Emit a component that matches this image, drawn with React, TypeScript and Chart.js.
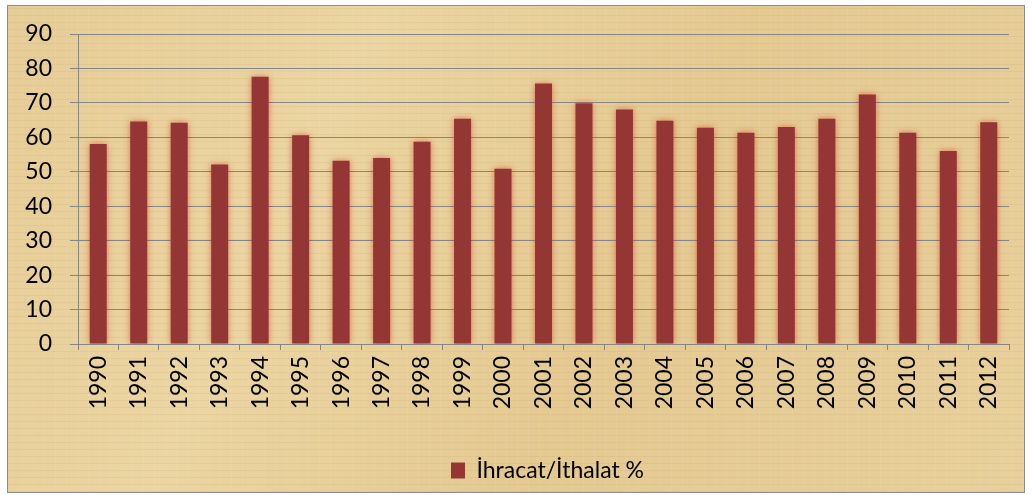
import React, { useEffect, useRef } from "react";
import { Chart, registerables } from "chart.js";

Chart.register(...registerables);

const years = ["1990","1991","1992","1993","1994","1995","1996","1997","1998","1999","2000","2001","2002","2003","2004","2005","2006","2007","2008","2009","2010","2011","2012"];
const ratioValues = [58.1,64.6,64.2,52.1,77.6,60.6,53.2,54.0,58.7,65.4,50.9,75.6,69.9,68.1,64.8,62.8,61.3,63.0,65.4,72.4,61.3,56.0,64.4];
const seriesLabel = "İhracat/İthalat %";
const yTicks = [0,10,20,30,40,50,60,70,80,90];

const FONT = "Lato, 'Open Sans', sans-serif";

const backgroundPlugin = {
  id: "papyrus",
  afterLayout(chart: any) {
    if (chart.legend) {
      chart.legend.left += 43;
      chart.legend.right += 43;
    }
  },
  beforeDraw(chart: any) {
    const ctx = chart.ctx;
    const w = chart.width, h = chart.height;
    ctx.save();
    ctx.fillStyle = "#ffffff";
    ctx.fillRect(0, 0, w, h);
    const x0 = 7, y0 = 5, x1 = w - 8, y1 = h - 2;
    const g = ctx.createLinearGradient(x0, y0, x1, y1);
    g.addColorStop(0, "#e6cc96");
    g.addColorStop(0.3, "#ebd5a2");
    g.addColorStop(0.6, "#e4c991");
    g.addColorStop(1, "#e8d09c");
    ctx.fillStyle = g;
    ctx.fillRect(x0, y0, x1 - x0, y1 - y0);
    ctx.globalAlpha = 0.1;
    ctx.strokeStyle = "#b08a50";
    ctx.lineWidth = 1;
    for (let y = y0 + 3; y < y1; y += 7) {
      ctx.beginPath();
      ctx.moveTo(x0, y + 0.5);
      ctx.lineTo(x1, y + 0.5);
      ctx.stroke();
    }
    ctx.globalAlpha = 0.12;
    ctx.strokeStyle = "#f6e6c0";
    for (let x = x0 + 4; x < x1; x += 11) {
      ctx.beginPath();
      ctx.moveTo(x + 0.5, y0);
      ctx.lineTo(x + 0.5, y1);
      ctx.stroke();
    }
    ctx.globalAlpha = 1;
    ctx.strokeStyle = "#8c8c8c";
    ctx.strokeRect(x0 + 0.5, y0 + 0.5, x1 - x0 - 1, y1 - y0 - 1);
    ctx.restore();
  },
  beforeDatasetsDraw(chart: any) {
    const ctx = chart.ctx;
    ctx.save();
    ctx.shadowColor = "rgba(210,40,30,0.55)";
    ctx.shadowBlur = 6;
  },
  afterDatasetsDraw(chart: any) {
    chart.ctx.restore();
  },
};

export default function App() {
  const ref = useRef<HTMLCanvasElement | null>(null);
  useEffect(() => {
    document.body.style.margin = "0";
    const canvas = ref.current!;
    const chart = new Chart(canvas, {
      type: "bar",
      data: {
        labels: years,
        datasets: [
          {
            label: seriesLabel,
            data: ratioValues,
            backgroundColor: "#943634",
            borderWidth: 0,
            barPercentage: 0.42,
            categoryPercentage: 1,
          },
        ],
      },
      options: {
        animation: false,
        responsive: false,
        devicePixelRatio: 1,
        layout: { padding: { left: 0, top: 34, right: 24, bottom: 3 } },
        plugins: {
          legend: {
            position: "bottom",
            labels: {
              font: { family: FONT, size: 23 },
              color: "#000",
              boxWidth: 14,
              boxHeight: 16,
              padding: 8,
            },
          },
          tooltip: { enabled: false },
        },
        scales: {
          x: {
            grid: {
              drawOnChartArea: false,
              drawTicks: true,
              tickLength: 6,
              color: "#868686",
              lineWidth: 1,
            },
            border: { color: "#868686", width: 1 },
            ticks: {
              minRotation: 90,
              maxRotation: 90,
              autoSkip: false,
              padding: 6,
              color: "#000",
              font: { family: FONT, size: 23 },
            },
            afterFit(scale: any) {
              scale.height = 107;
            },
          },
          y: {
            min: 0,
            max: 90,
            afterBuildTicks(scale: any) {
              scale.ticks = yTicks.map((v) => ({ value: v }));
            },
            grid: {
              color: "#868686",
              lineWidth: 1,
              tickLength: 8,
            },
            border: { color: "#868686", width: 1 },
            ticks: {
              padding: 18,
              color: "#000",
              font: { family: FONT, size: 23 },
            },
            afterFit(scale: any) {
              scale.width = 78;
            },
          },
        },
      },
      plugins: [backgroundPlugin],
    });
    return () => chart.destroy();
  }, []);
  return (
    <div style={{ width: 1033, height: 495 }}>
      <canvas ref={ref} width={1033} height={495} />
    </div>
  );
}
